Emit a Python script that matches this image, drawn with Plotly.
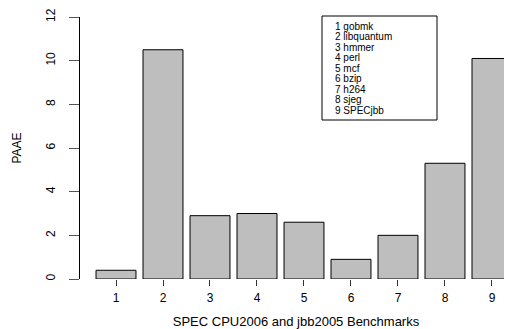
import plotly.graph_objects as go

benchmarks = [1, 2, 3, 4, 5, 6, 7, 8, 9]
names = ["gobmk", "libquantum", "hmmer", "perl", "mcf", "bzip", "h264", "sjeg", "SPECjbb"]
paae = [0.4, 10.5, 2.9, 3.0, 2.6, 0.9, 2.0, 5.3, 10.1]
y_ticks = [0, 2, 4, 6, 8, 10, 12]

FONT = "Liberation Sans, Arial, Helvetica, sans-serif"
# page body has an 8px default margin; compensate so the chart sits at the window origin
OFF = 8
W, H = 512 - OFF, 329 - OFF
L, T, B = 80 - OFF, 17 - OFF, 50
PW, PH = W - L, H - T - B  # 432 x 262

fig = go.Figure()
fig.add_trace(go.Bar(
    x=benchmarks, y=paae, width=0.85,
    marker=dict(color="#BEBEBE", line=dict(color="black", width=1)),
    showlegend=False,
))

fig.update_layout(
    width=W, height=H,
    margin=dict(l=L, r=0, t=T, b=B),
    paper_bgcolor="white", plot_bgcolor="white",
    font=dict(family=FONT, size=12, color="black"),
    xaxis=dict(
        range=[0.234, 9.426], tickvals=benchmarks, ticktext=[str(b) for b in benchmarks],
        ticks="outside", ticklen=6, tickcolor="#333", showline=False, showgrid=False,
        zeroline=False, tickfont=dict(size=12), automargin=False, ticklabelstandoff=2,
        title=dict(text="SPEC CPU2006 and jbb2005 Benchmarks", font=dict(size=13), standoff=19),
    ),
    yaxis=dict(
        range=[0, 12], tickvals=y_ticks, ticks="outside", ticklen=10, tickcolor="#555",
        showline=True, linecolor="black", linewidth=1, showgrid=False, zeroline=False,
        tickangle=-90, tickfont=dict(size=12), automargin=False, ticklabelstandoff=9,
        title=dict(text="PAAE", font=dict(size=12), standoff=20),
    ),
)

# legend-like text box (positions in reference-plot pixels, converted to paper coords)
def px(x):
    return (x - 80) / PW

def py(y):
    return (279 - y) / PH

fig.add_shape(type="rect", xref="paper", yref="paper",
              x0=px(322), x1=px(437), y0=py(120), y1=py(16),
              line=dict(color="black", width=1), fillcolor="white")
for i, (b, n) in enumerate(zip(benchmarks, names)):
    ypix = 26.5 + i * 10.45
    fig.add_annotation(xref="paper", yref="paper",
                       x=px(333), y=py(ypix),
                       xanchor="left", yanchor="middle", showarrow=False,
                       text=f"{b} {n}", font=dict(size=10, family=FONT))

fig.write_html("out.html")
